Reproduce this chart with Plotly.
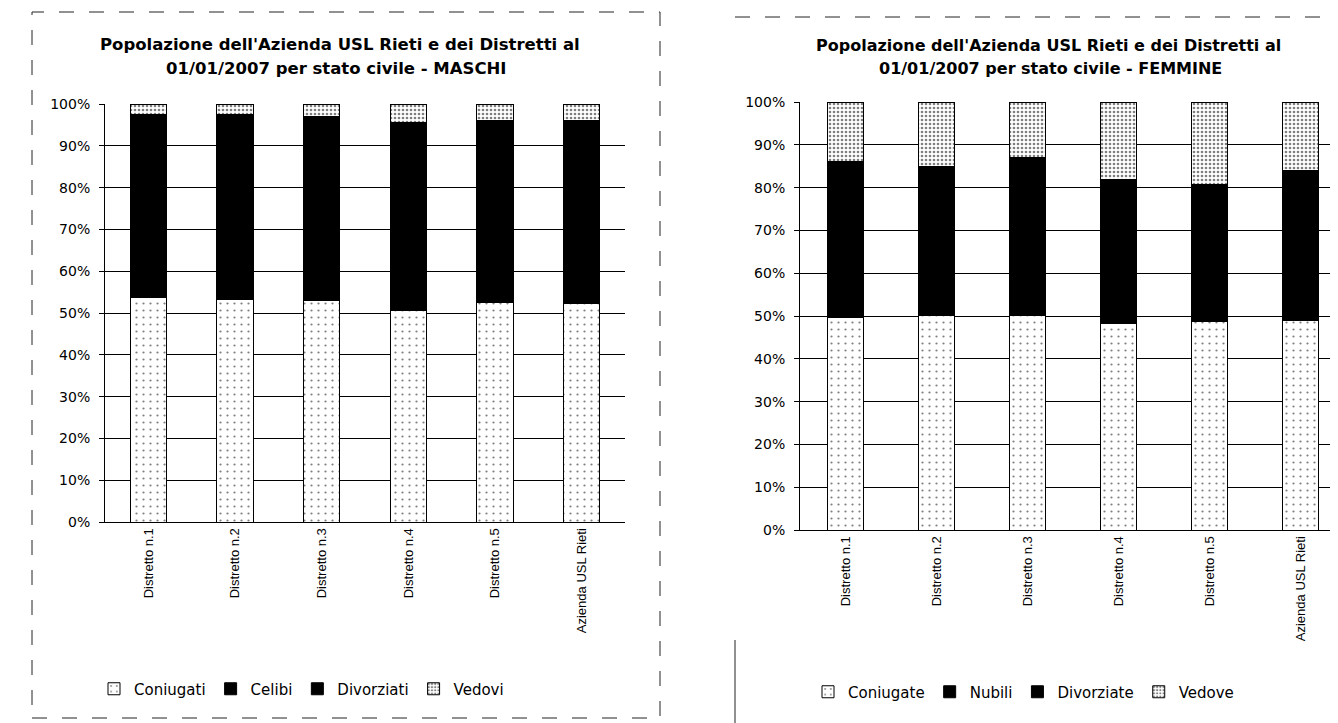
"""
Popolazione dell'Azienda USL Rieti per stato civile al 01/01/2007
Grafici a barre in pila 100% (maschi / femmine)
"""

import plotly.graph_objects as go

# categorie (asse x)
distretti = ["Distretto n.1", "Distretto n.2", "Distretto n.3",
             "Distretto n.4", "Distretto n.5", "Azienda USL Rieti"]

# maschi - quote percentuali
coniugati = [53.8, 53.2, 52.9, 50.7, 52.4, 52.3]
celibi = [42.6, 43.0, 42.9, 43.5, 42.4, 42.5]
divorziati = [1.2, 1.2, 1.2, 1.3, 1.2, 1.2]
vedovi = [2.4, 2.6, 3.0, 4.5, 4.0, 4.0]

# femmine - quote percentuali
coniugate = [49.7, 50.1, 50.1, 48.2, 48.7, 49.0]
nubili = [34.8, 33.4, 35.4, 32.3, 30.6, 33.5]
divorziate = [1.5, 1.5, 1.5, 1.5, 1.5, 1.5]
vedove = [14.0, 15.0, 13.0, 18.0, 19.2, 16.0]

tick_vals = [0, 10, 20, 30, 40, 50, 60, 70, 80, 90, 100]
tick_text = ["0%", "10%", "20%", "30%", "40%", "50%", "60%", "70%", "80%", "90%", "100%"]

FONT = "DejaVu Sans, sans-serif"
FONT_X = "Liberation Sans, Arial, sans-serif"
W, H = 1338, 723
OFF = 8  # margine del body della pagina


def fx(px):
    return (px - OFF) / W


def fy(py):
    return 1 - (py - OFF) / H


def bar(name, values, xa, ya, legend, fill, pattern=None, width=0.42):
    marker = dict(color=fill, line=dict(color="black", width=1))
    if pattern:
        marker["pattern"] = pattern
    return go.Bar(x=distretti, y=values, name=name, xaxis=xa, yaxis=ya,
                  legend=legend, marker=marker, width=width)


dots_light = dict(shape=".", fgcolor="black", bgcolor="white", size=7, solidity=0.08)
dots_dense = dict(shape=".", fgcolor="black", bgcolor="white", size=4, solidity=0.35)

fig = go.Figure()

# grafico maschi
fig.add_trace(bar("Coniugati", coniugati, "x", "y", "legend", "white", dots_light))
fig.add_trace(bar("Celibi", celibi, "x", "y", "legend", "black"))
fig.add_trace(bar("Divorziati", divorziati, "x", "y", "legend", "black"))
fig.add_trace(bar("Vedovi", vedovi, "x", "y", "legend", "white", dots_dense))

# grafico femmine
fig.add_trace(bar("Coniugate", coniugate, "x2", "y2", "legend2", "white", dots_light, 0.39))
fig.add_trace(bar("Nubili", nubili, "x2", "y2", "legend2", "black", None, 0.39))
fig.add_trace(bar("Divorziate", divorziate, "x2", "y2", "legend2", "black", None, 0.39))
fig.add_trace(bar("Vedove", vedove, "x2", "y2", "legend2", "white", dots_dense, 0.39))

xaxis_common = dict(tickangle=-90, tickfont=dict(family=FONT_X, size=13, color="black"),
                    showline=True, linecolor="black", linewidth=1, ticks="",
                    showgrid=False, automargin=False)
yaxis_common = dict(range=[0, 100], tickvals=tick_vals, ticktext=tick_text,
                    tickfont=dict(family=FONT, size=14, color="black"),
                    showgrid=True, gridcolor="black", gridwidth=1,
                    showline=True, linecolor="black", linewidth=1,
                    ticks="outside", ticklen=5, tickcolor="black", zeroline=False,
                    ticklabelstandoff=6, automargin=False)

legend_common = dict(orientation="h", xanchor="left", yanchor="middle",
                     font=dict(family=FONT, size=15), traceorder="normal",
                     itemwidth=30, bgcolor="rgba(0,0,0,0)")

fig.update_layout(
    width=W, height=H,
    barmode="stack",
    paper_bgcolor="white", plot_bgcolor="white",
    margin=dict(l=0, r=0, t=0, b=0, autoexpand=False),
    font=dict(family=FONT, color="black"),
    xaxis=dict(domain=[fx(105), fx(625)], anchor="y", **xaxis_common),
    yaxis=dict(domain=[fy(522), fy(104)], anchor="x", **yaxis_common),
    xaxis2=dict(domain=[fx(800), fx(1346)], anchor="y2", **xaxis_common),
    yaxis2=dict(domain=[fy(530), fy(102)], anchor="x2", **yaxis_common),
    legend=dict(x=fx(94), y=fy(689), **legend_common),
    legend2=dict(x=fx(808), y=fy(692), **legend_common),
    annotations=[
        dict(text="<b>Popolazione dell'Azienda USL Rieti e dei Distretti al</b>",
             x=fx(340), y=fy(44), xref="paper", yref="paper", showarrow=False,
             xanchor="center", yanchor="middle", font=dict(family=FONT, size=16.5)),
        dict(text="<b>01/01/2007 per stato civile - MASCHI</b>",
             x=fx(336), y=fy(68), xref="paper", yref="paper", showarrow=False,
             xanchor="center", yanchor="middle", font=dict(family=FONT, size=16.5)),
        dict(text="<b>Popolazione dell'Azienda USL Rieti e dei Distretti al</b>",
             x=fx(1048), y=fy(45), xref="paper", yref="paper", showarrow=False,
             xanchor="center", yanchor="middle", font=dict(family=FONT, size=16)),
        dict(text="<b>01/01/2007 per stato civile - FEMMINE</b>",
             x=fx(1050), y=fy(68), xref="paper", yref="paper", showarrow=False,
             xanchor="center", yanchor="middle", font=dict(family=FONT, size=16)),
    ],
    shapes=[
        # cornice grafico maschi
        dict(type="rect", xref="paper", yref="paper", x0=fx(32), x1=fx(660),
             y0=fy(718), y1=fy(12), line=dict(color="#222", width=1, dash="longdash")),
        # cornice grafico femmine
        dict(type="line", xref="paper", yref="paper", x0=fx(735), x1=fx(1346),
             y0=fy(17), y1=fy(17), line=dict(color="#222", width=1, dash="longdash")),
        dict(type="line", xref="paper", yref="paper", x0=fx(735), x1=fx(735),
             y0=fy(640), y1=fy(731), line=dict(color="#222", width=1)),
    ],
)

fig.write_html("out.html")
